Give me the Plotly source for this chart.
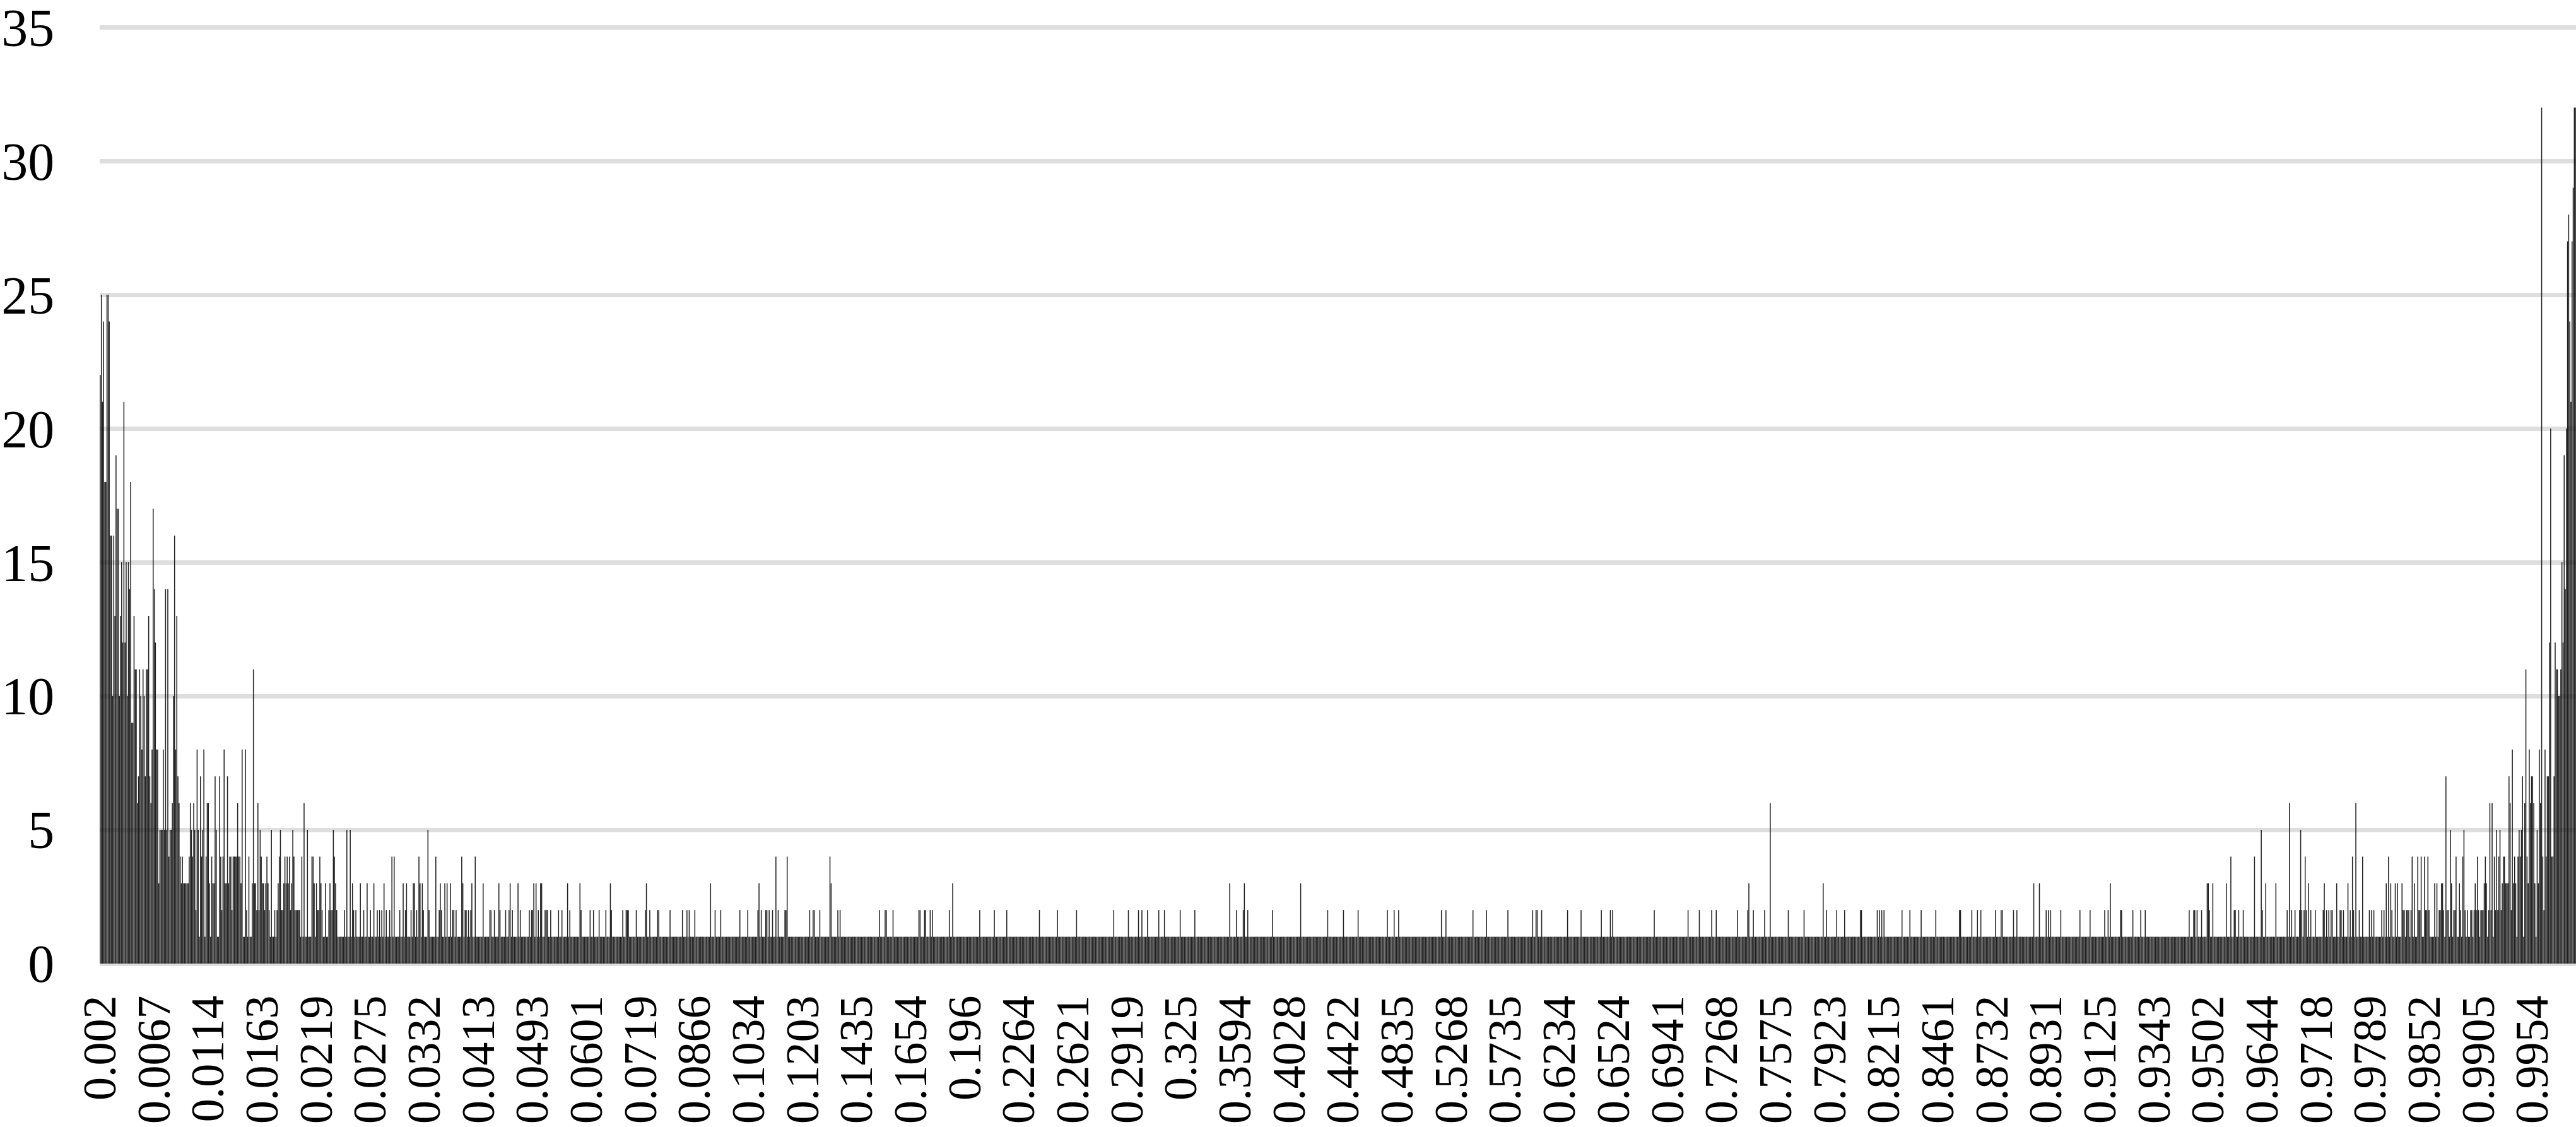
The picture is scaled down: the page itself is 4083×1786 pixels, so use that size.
"""Histogram of values in 0-1: tall at both ends, mostly single counts in the middle."""

import plotly.graph_objects as go

BAR_COUNT = 2199
LABEL_EVERY = 48

tick_labels = [
    "0.002", "0.0067", "0.0114", "0.0163", "0.0219", "0.0275", "0.0332", "0.0413",
    "0.0493", "0.0601", "0.0719", "0.0866", "0.1034", "0.1203", "0.1435", "0.1654",
    "0.196", "0.2264", "0.2621", "0.2919", "0.325", "0.3594", "0.4028", "0.4422",
    "0.4835", "0.5268", "0.5735", "0.6234", "0.6524", "0.6941", "0.7268", "0.7575",
    "0.7923", "0.8215", "0.8461", "0.8732", "0.8931", "0.9125", "0.9343", "0.9502",
    "0.9644", "0.9718", "0.9789", "0.9852", "0.9905", "0.9954",
]

# dense left end, bar by bar
left_counts = [
    22, 25, 21, 24, 18, 18, 25, 25, 24, 16, 16, 10, 16, 13, 19, 17, 17, 10, 13, 15,
    12, 21, 12, 15, 10, 15, 14, 18, 9, 9, 13, 11, 11, 6, 7, 11, 10, 8, 11, 10,
    7, 11, 11, 13, 7, 6, 8, 17, 14, 12, 8, 8, 3, 5, 5, 5, 8, 5, 14, 5,
    14, 4, 5, 5, 6, 10, 16, 8, 13, 7, 6, 4, 3, 4, 3, 3, 3, 3, 3, 4,
    6, 5, 4, 6, 5, 2, 8, 5, 1, 7, 4, 5, 8, 1, 4, 6, 6, 3, 1, 4,
    3, 3, 7, 5, 1, 1, 7, 4, 2, 4, 8, 3, 3, 7, 3, 4, 4, 2, 4, 4,
    4, 4, 6, 4, 4, 3, 8, 1, 1, 8, 2, 1, 4, 1, 1, 3, 11, 3, 3, 2,
    6, 2, 5, 4, 3, 3, 2,
]

# dense right end, bar by bar, running up to the last bar
right_counts = [
    2, 1, 5, 3, 1, 2, 2, 4, 1, 1, 3, 2, 1, 4, 5, 2, 1, 2, 1, 1,
    2, 2, 1, 2, 3, 2, 4, 2, 1, 2, 2, 2, 3, 4, 3, 1, 2, 6, 2, 6,
    1, 4, 2, 5, 2, 4, 5, 2, 3, 4, 4, 3, 3, 3, 7, 6, 2, 8, 3, 4,
    3, 1, 4, 5, 4, 5, 7, 1, 6, 11, 4, 3, 8, 6, 7, 7, 6, 3, 1, 5,
    3, 8, 6, 32, 4, 2, 8, 4, 7, 7, 12, 20, 4, 4, 7, 12, 11, 11, 10, 10,
    11, 15, 12, 19, 14, 20, 27, 28, 24, 21, 27, 29, 32, 32,
]

# between the ends nearly every bar is 1; these bar numbers rise above that
bars_at_2 = [
    150, 155, 157, 161, 162, 169, 173, 174, 175, 176, 177, 193, 194, 197, 203, 205, 206, 210,
    217, 225, 227, 234, 240, 246, 248, 250, 254, 257, 266, 271, 276, 281, 287, 292, 301,
    303, 313, 314, 316, 324, 325, 327, 329, 346, 347, 350, 355, 360, 363, 366, 373, 381, 383,
    384, 389, 395, 396, 397, 400, 407, 410, 417, 427, 435, 438, 443, 449, 454, 464, 467, 468,
    469, 476, 484, 488, 495, 496, 506, 517, 521, 523, 528, 546, 551, 568, 575, 584, 587, 591,
    592, 594, 597, 602, 608, 609, 630, 633, 634, 639, 655, 657, 692, 697, 698, 704, 727, 728,
    732, 733, 737, 739, 754, 781, 794, 805, 834, 850, 867, 900, 913, 922, 925, 930, 940, 945,
    959, 972, 1009, 1015, 1019, 1041, 1090, 1104, 1117, 1143, 1149, 1153, 1191, 1195, 1219,
    1231, 1250, 1272, 1275, 1276, 1280, 1303, 1315, 1333, 1341, 1343, 1380, 1410, 1420, 1431,
    1435, 1454, 1463, 1468, 1478, 1499, 1513, 1533, 1542, 1549, 1563, 1564, 1578, 1580, 1582,
    1584, 1600, 1607, 1617, 1630, 1651, 1652, 1662, 1667, 1670, 1683, 1688, 1689, 1699, 1702,
    1728, 1730, 1732, 1741, 1758, 1767, 1780, 1783, 1794, 1795, 1805, 1812, 1816, 1855, 1859,
    1860, 1862, 1866, 1873, 1895, 1896, 1899, 1903, 1920, 1942, 1946, 1949, 1953, 1955, 1957,
    1959, 1963, 1967, 1974, 1977, 1979, 1981, 1982, 1989, 1990, 1992, 1998, 2001, 2006, 2015,
    2017, 2019, 2026, 2028, 2035, 2045, 2046, 2048, 2049, 2050, 2052, 2059, 2060, 2065, 2066,
    2068, 2077, 2078, 2081, 2084,
]
bars_at_3 = [
    147, 149, 158, 163, 165, 167, 170, 190, 192, 196, 200, 204, 209, 224, 231, 237, 243, 252,
    269, 272, 278, 279, 284, 286, 302, 306, 308, 311, 322, 330, 340, 354, 364, 371, 385, 387,
    391, 392, 415, 426, 453, 485, 542, 585, 649, 757, 1003, 1016, 1066, 1464, 1530, 1717, 1722,
    1785, 1871, 1872, 1876, 1888, 1923, 1932, 1961, 1975, 1986, 1996, 2030, 2034, 2038, 2040,
    2044, 2055, 2073, 2075, 2079, 2080,
]
bars_at_4 = [
    148, 159, 164, 166, 168, 172, 179, 188, 189, 195, 208, 259, 261, 283, 298, 321, 333, 600,
    610, 648, 1892, 1913, 1958, 2000, 2009, 2032, 2053, 2058, 2061, 2064, 2067,
]
bars_at_5 = [152, 160, 171, 184, 207, 219, 222, 291, 1919, 1954]
bars_at_6 = [181, 1483, 1944, 2003]
bars_at_7 = [2083]

counts = [1] * BAR_COUNT
for level, bars in [(2, bars_at_2), (3, bars_at_3), (4, bars_at_4),
                    (5, bars_at_5), (6, bars_at_6), (7, bars_at_7)]:
    for b in bars:
        counts[b] = level
counts[: len(left_counts)] = left_counts
counts[-len(right_counts):] = right_counts

fig = go.Figure(
    go.Bar(
        x=list(range(BAR_COUNT)),
        y=counts,
        marker={"color": "rgba(15,15,15,0.93)", "line": {"width": 0}},
    )
)
fig.update_layout(
    width=4083,
    height=1786,
    margin={"l": 158, "r": 0, "t": 39, "b": 259},
    paper_bgcolor="white",
    plot_bgcolor="white",
    showlegend=False,
    bargap=0.15,
    font={"family": "Liberation Serif", "color": "black"},
)
fig.update_xaxes(
    automargin=False,
    range=[-0.5, BAR_COUNT - 0.5],
    tickmode="array",
    tickvals=[i * LABEL_EVERY for i in range(len(tick_labels))],
    ticktext=tick_labels,
    tickangle=-90,
    tickfont={"size": 74},
    ticks="outside",
    ticklen=20,
    tickcolor="rgba(0,0,0,0)",
    ticklabeloverflow="allow",
    showgrid=False,
    showline=False,
    zeroline=False,
)
fig.update_yaxes(
    automargin=False,
    range=[0, 35.1],
    tickmode="array",
    tickvals=[0, 5, 10, 15, 20, 25, 30, 35],
    tickfont={"size": 84},
    ticks="outside",
    ticklen=54,
    tickcolor="rgba(0,0,0,0)",
    ticklabeloverflow="allow",
    showgrid=True,
    gridcolor="#dedede",
    gridwidth=7,
    zeroline=True,
    zerolinecolor="#dedede",
    zerolinewidth=7,
    showline=False,
)
fig.write_html(
    "out.html",
    config={"displayModeBar": False},
    post_script="document.body.style.margin='0';",
)
